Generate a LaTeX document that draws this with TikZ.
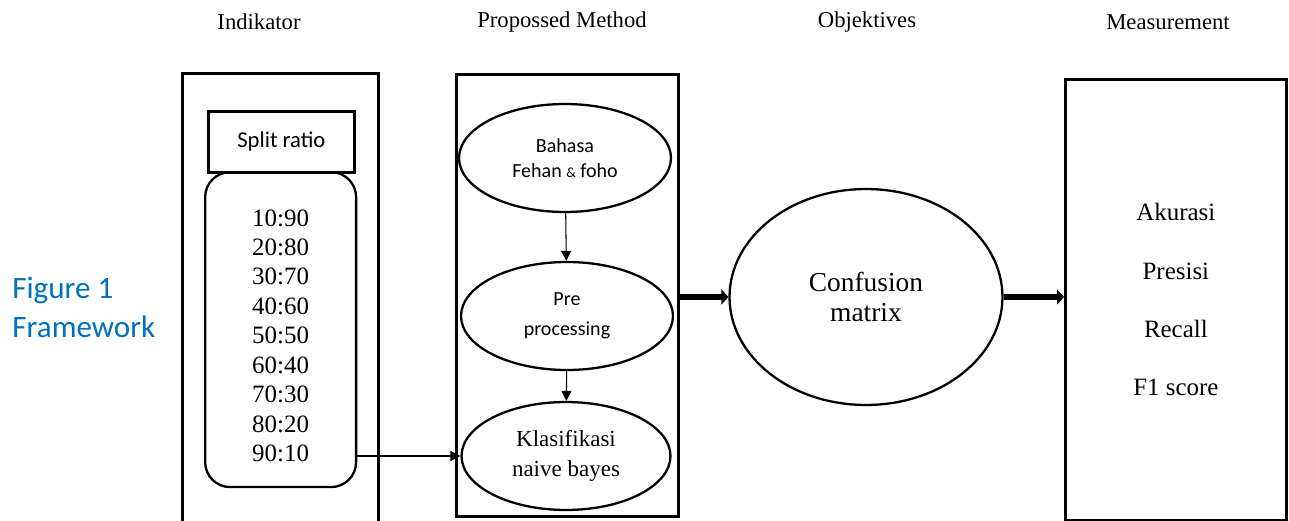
\documentclass[tikz,border=0pt]{standalone}
\usepackage{fontspec}
\setmainfont{Liberation Serif}
\newfontfamily\calibri{Carlito}
\usepackage{xcolor}
\usetikzlibrary{arrows.meta,positioning,shapes.geometric}
\definecolor{figblue}{RGB}{0,112,192}

\begin{document}
\begin{tikzpicture}[x=0.02cm,y=-0.02cm,
  frame/.style={draw,line width=1.6pt,inner sep=0pt,anchor=north west},
  oval/.style={draw,ellipse,line width=1.3pt,inner sep=0pt,align=center},
  head/.style={font=\fontsize{12.9}{15}\selectfont},
  >={Triangle[length=2mm,width=2mm]},
  thick arrow/.style={line width=3.5pt,-{Triangle[length=1.4mm,width=3mm]}}]
\useasboundingbox (0,0) rectangle (1289,521);
% column headings
\node[head] (hind) at (259,22) {Indikator};
\node[head] (hmeth) at (562,22) {Propossed Method};
\node[head] (hobj) at (867,22) {Objektives};
\node[head] (hmeas) at (1168,22) {Measurement};
\node[anchor=west,inner sep=0pt,align=left,text=figblue,font=\calibri\fontsize{17.7}{22.2}\selectfont] (cap) at (12,307) {Figure 1\\Framework};
% indikator
\node[frame,minimum width=3.92cm,minimum height=9.2cm] (indbox) at (181,72) {};
\node[frame,minimum width=2.92cm,minimum height=1.22cm,font=\calibri\fontsize{12.9}{15}\selectfont] (split) at (207,110) {Split ratio};
\node[frame,line width=1.3pt,rounded corners=0.5cm,minimum width=3.02cm,minimum height=6.3cm,align=center,
  font=\fontsize{14.2}{16.75}\selectfont] (ratios) at (204,171) {\rule{0pt}{16.4pt}10:90\\20:80\\30:70\\40:60\\50:50\\60:40\\70:30\\80:20\\90:10};
% proposed method
\node[frame,minimum width=4.44cm,minimum height=8.84cm] (methbox) at (455,73) {};
\node[oval,minimum width=4.24cm,minimum height=2.16cm,font=\calibri\fontsize{11.4}{14.2}\selectfont] (bahasa) at (565,158) {Bahasa\\Fehan {\footnotesize\&} foho};
\node[oval,minimum width=4.24cm,minimum height=2.16cm,font=\calibri\fontsize{11.4}{17}\selectfont] (pre) at (567,316) {Pre\\processing};
\node[oval,minimum width=4.18cm,minimum height=2.16cm,font=\fontsize{13.1}{17}\selectfont] (klas) at (566,456) {Klasifikasi\\naive bayes};
% objektives
\node[oval,minimum width=5.46cm,minimum height=4.32cm,font=\fontsize{15.6}{17.2}\selectfont] (conf) at (866,297) {Confusion\\matrix};
% measurement
\node[frame,minimum width=4.42cm,minimum height=8.82cm,align=center,font=\fontsize{14.2}{33.2}\selectfont] (meas) at (1064,78) {Akurasi\\Presisi\\Recall\\F1 score};
\draw[->,line width=0.6pt] (bahasa) -- (pre);
\draw[->,line width=0.6pt] (pre) -- (klas);
\draw[->,line width=0.6pt] (ratios.east |- klas.west) -- (klas.west);
\draw[thick arrow] (methbox.east |- conf.west) -- (conf.west);
\draw[thick arrow] (conf.east) -- (meas.west |- conf.east);
\end{tikzpicture}
\end{document}
